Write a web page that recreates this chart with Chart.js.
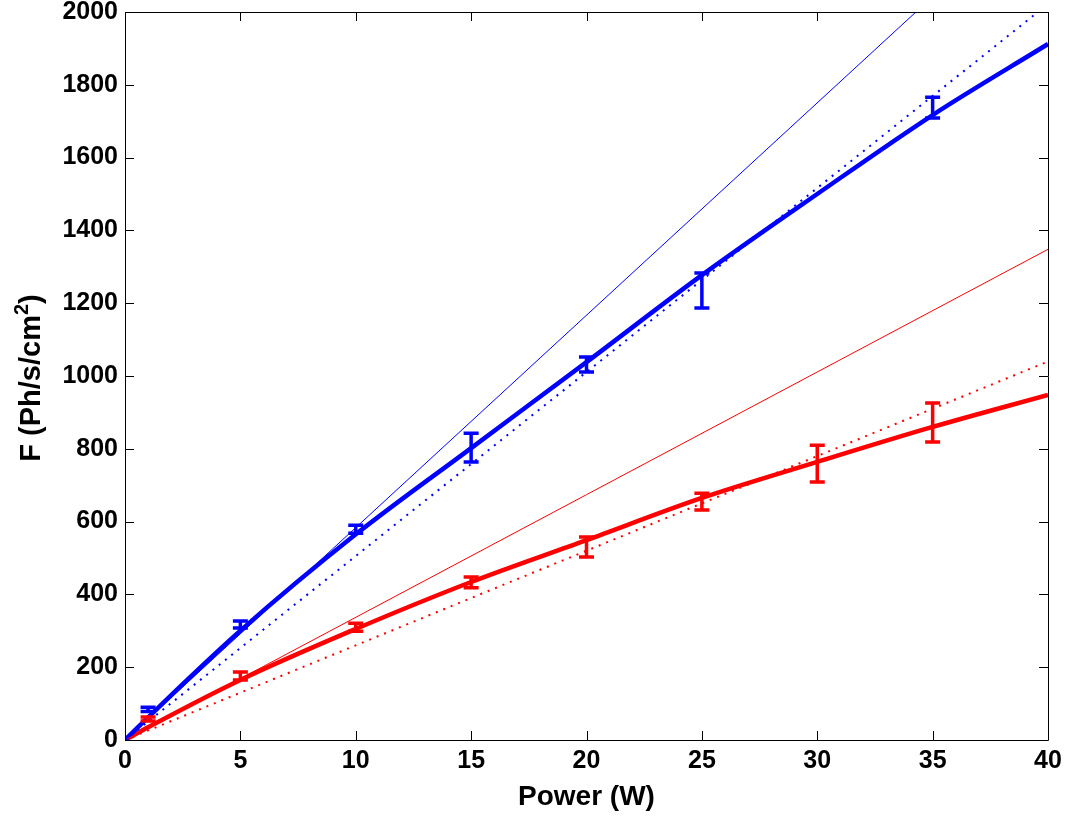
<!DOCTYPE html>
<html>
<head>
<meta charset="utf-8">
<script src="https://cdn.jsdelivr.net/npm/chart.js@4.4.0/dist/chart.umd.min.js"></script>
<style>
html, body { margin: 0; padding: 0; background: #fff; }
canvas { display: block; }
</style>
</head>
<body>
<canvas id="fluxchart" width="1073" height="816"></canvas>
<script>
// Axis ticks
const xTicks = [0, 5, 10, 15, 20, 25, 30, 35, 40];
const yTicks = [0, 200, 400, 600, 800, 1000, 1200, 1400, 1600, 1800, 2000];

// Measured points with error bars
const blueP = [1, 5, 10, 15, 20, 25, 35];
const blueLow = [78, 308, 568, 764, 1011, 1187, 1709];
const blueHigh = [90, 327, 590, 843, 1052, 1283, 1766];
const redP = [1, 5, 10, 15, 20, 25, 30, 35];
const redLow = [52, 165, 299, 418, 503, 632, 709, 819];
const redHigh = [63, 187, 321, 448, 558, 678, 810, 926];

// Fit curves (thick)
const fitP = [0, 1, 5, 10, 15, 20, 25, 30, 35, 40];
const blueFit = [0, 62, 300, 565, 802, 1038, 1277, 1500, 1717, 1912];
const redFit = [0, 35, 165, 305, 434, 549, 665, 764, 860, 948];

// Linear references (thin and dotted)
const lineP = [0, 40];
const blueThin = [0, 2334];
const blueDot = [0, 2022];
const redThin = [0, 1348];
const redDot = [0, 1040];

const blue = '#0000ff';
const red = '#ff0000';
const fontFamily = 'Liberation Sans, Arial, Helvetica, sans-serif';
const tickFont = {family: fontFamily, size: 25, weight: 'bold', lineHeight: 1.2};

const pts = (xs, ys) => xs.map((x, i) => ({x: x, y: ys[i]}));

//Frame, inward tick marks, error bars and the y title with superscript
const frameAndBars = {
    id: 'frameAndBars',
    afterDatasetsDraw(chart) {
        const {ctx, scales: {x, y}} = chart;
        const bars = [[blueP, blueLow, blueHigh, blue], [redP, redLow, redHigh, red]];
        ctx.save();
        ctx.lineWidth = 3.5;
        bars.forEach(([ps, lo, hi, color]) => {
            ctx.strokeStyle = color;
            ps.forEach((p, i) => {
                const px = x.getPixelForValue(p);
                const top = y.getPixelForValue(hi[i]);
                const bot = y.getPixelForValue(lo[i]);
                ctx.beginPath();
                ctx.moveTo(px, top);
                ctx.lineTo(px, bot);
                ctx.moveTo(px - 7.5, top);
                ctx.lineTo(px + 7.5, top);
                ctx.moveTo(px - 7.5, bot);
                ctx.lineTo(px + 7.5, bot);
                ctx.stroke();
            });
        });
        ctx.restore();
    },
    afterDraw(chart) {
        const {ctx, chartArea: {left, top, right, bottom}, scales: {x, y}} = chart;
        const tl = 9;
        ctx.save();
        ctx.strokeStyle = '#000';
        ctx.lineWidth = 1;
        ctx.beginPath();
        ctx.rect(left + 0.5, top + 0.5, right - left, bottom - top);
        xTicks.forEach(v => {
            const px = Math.round(x.getPixelForValue(v)) + 0.5;
            ctx.moveTo(px, bottom);
            ctx.lineTo(px, bottom - tl);
            ctx.moveTo(px, top);
            ctx.lineTo(px, top + tl);
        });
        yTicks.forEach(v => {
            const py = Math.round(y.getPixelForValue(v)) + 0.5;
            ctx.moveTo(left, py);
            ctx.lineTo(left + tl, py);
            ctx.moveTo(right, py);
            ctx.lineTo(right - tl, py);
        });
        ctx.stroke();

        // y axis title: F (Ph/s/cm^2)
        const main = 'bold 29px ' + fontFamily;
        const sup = 'bold 20px ' + fontFamily;
        const parts = [['F (Ph/s/cm', main, 0], ['2', sup, -12], [')', main, 0]];
        let total = 0;
        parts.forEach(([t, f]) => { ctx.font = f; total += ctx.measureText(t).width; });
        ctx.translate(40, (top + bottom) / 2 + 2);
        ctx.rotate(-Math.PI / 2);
        ctx.fillStyle = '#000';
        ctx.textAlign = 'left';
        ctx.textBaseline = 'alphabetic';
        let cx = -total / 2;
        parts.forEach(([t, f, dy]) => {
            ctx.font = f;
            ctx.fillText(t, cx, dy);
            cx += ctx.measureText(t).width;
        });
        ctx.restore();
    }
};

const data = {
    datasets: [
        {data: pts(lineP, blueThin), borderColor: blue, borderWidth: 1},
        {data: pts(lineP, blueDot), borderColor: blue, borderWidth: 2, borderDash: [2, 6]},
        {data: pts(lineP, redThin), borderColor: red, borderWidth: 1},
        {data: pts(lineP, redDot), borderColor: red, borderWidth: 2, borderDash: [2, 6]},
        {data: pts(fitP, blueFit), borderColor: blue, borderWidth: 4.5, cubicInterpolationMode: 'monotone'},
        {data: pts(fitP, redFit), borderColor: red, borderWidth: 4.5, cubicInterpolationMode: 'monotone'},
    ]
};

const config = {
    type: 'scatter',
    data: data,
    plugins: [frameAndBars],
    options: {
        responsive: false,
        animation: false,
        showLine: true,
        elements: {point: {radius: 0, hoverRadius: 0}},
        layout: {padding: {top: 12, right: 25, left: 0, bottom: 0}},
        plugins: {
            legend: {display: false},
            tooltip: {enabled: false},
        },
        scales: {
            x: {
                type: 'linear',
                min: 0,
                max: 40,
                grid: {display: false, drawTicks: false},
                border: {display: false},
                afterBuildTicks: (scale) => { scale.ticks = xTicks.map(v => ({value: v})); },
                afterFit: (scale) => {
                    scale.height = 76;
                    scale.paddingLeft = 0;
                    scale.paddingRight = 0;
                },
                ticks: {color: '#000', font: tickFont, padding: 6, maxRotation: 0, callback: v => String(v)},
                title: {
                    display: true,
                    text: 'Power (W)',
                    color: '#000',
                    font: {family: fontFamily, size: 28, weight: 'bold'},
                    padding: {top: 0, bottom: 2},
                },
            },
            y: {
                type: 'linear',
                min: 0,
                max: 2000,
                grid: {display: false, drawTicks: false},
                border: {display: false},
                afterBuildTicks: (scale) => { scale.ticks = yTicks.map(v => ({value: v})); },
                afterFit: (scale) => {
                    scale.width = 125;
                    scale.paddingTop = 0;
                    scale.paddingBottom = 0;
                },
                ticks: {color: '#000', font: tickFont, padding: 7, callback: v => String(v)},
            },
        },
    },
};

const fluxChart = new Chart(document.getElementById('fluxchart'), config);
</script>
</body>
</html>
